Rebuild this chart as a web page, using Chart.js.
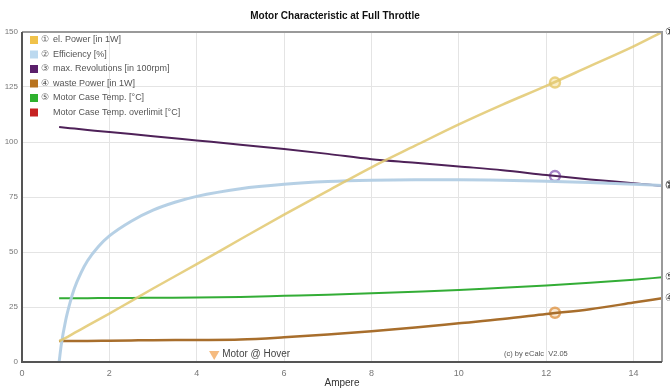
<!DOCTYPE html>
<html>
<head>
<meta charset="utf-8">
<script src="https://cdn.jsdelivr.net/npm/chart.js@4/dist/chart.umd.min.js"></script>
<style>
  html, body { margin: 0; padding: 0; background: #fff; }
  #wrap { width: 670px; height: 389px; position: relative; }
</style>
</head>
<body>
<div id="wrap"><canvas id="chartMotor"></canvas></div>
<script>
// ── Data ─────────────────────────────────────────────────────
const ampere      = [0.85, 1, 1.2, 1.5, 2, 2.5, 3, 4, 5, 6, 7, 8, 9, 10, 11, 12, 13, 14, 14.65];
const elPower     = [9.5, 11, 13.2, 16.5, 22, 27.7, 33.4, 44.5, 55.8, 67, 77.8, 88.5, 98.3, 108, 117, 125.5, 134.5, 143.5, 150];
const maxRevs     = [106.8, 106.5, 106.1, 105.5, 104.5, 103.6, 102.6, 100.7, 98.8, 96.8, 94.6, 92.2, 90.6, 88.9, 87.2, 85, 83, 81.3, 80];
const wastePower  = [9.5, 9.5, 9.5, 9.6, 9.7, 9.8, 9.9, 10, 10.2, 11.2, 12.5, 14, 15.7, 17.6, 19.5, 21.8, 24, 27, 29];
const caseTemp    = [29, 29, 29, 29, 29.1, 29.1, 29.2, 29.3, 29.6, 30.1, 30.6, 31.2, 31.9, 32.7, 33.8, 34.8, 36, 37.4, 38.5];

// efficiency rises steeply, so it is read on a finer grid near the start
const effAmpere   = [0.85, 0.9, 1, 1.1, 1.2, 1.35, 1.5, 1.75, 2, 2.5, 3, 3.5, 4, 5, 6, 7, 8, 9, 10, 11, 12, 13, 14, 14.65];
const efficiency  = [0, 8, 19, 27, 33.5, 40.5, 46, 52.5, 57.3, 64, 69, 72.6, 75.3, 78.8, 80.8, 82, 82.6, 82.8, 82.8, 82.6, 82.2, 81.6, 80.8, 80.2];

const opAmpere    = 12.2;
const opValues    = [127, 84.5, 22.4];          // el. Power, Revolutions, waste Power
const hoverAmpere = 4.4;
const hoverValue  = 3.6;

const xTicks      = [0, 2, 4, 6, 8, 10, 12, 14];
const yTicks      = [0, 25, 50, 75, 100, 125, 150];

const legendItems = [
  { num: '①', text: 'el. Power [in 1W]',            color: '#f0c24a' },
  { num: '②', text: 'Efficiency [%]',               color: '#bcd9ef' },
  { num: '③', text: 'max. Revolutions [in 100rpm]', color: '#5b1f6b' },
  { num: '④', text: 'waste Power [in 1W]',          color: '#b8731f' },
  { num: '⑤', text: 'Motor Case Temp. [°C]',        color: '#2eb12e' },
  { num: '',  text: 'Motor Case Temp. overlimit [°C]', color: '#c62222' }
];

const FONT = "'Liberation Sans', Arial, sans-serif";
const pts = (xs, ys) => xs.map((a, i) => ({ x: a, y: ys[i] }));

// ── Plugins ──────────────────────────────────────────────────
const decorations = {
  id: 'decorations',
  beforeDatasetsDraw(chart) {
    const { ctx, chartArea: a } = chart;
    ctx.save();
    // copyright
    ctx.fillStyle = '#555';
    ctx.font = '7.5px ' + FONT;
    ctx.textBaseline = 'middle';
    ctx.fillText('(c) by eCalc  V2.05', 504, a.bottom - 8);
    // hover label
    ctx.fillStyle = '#444';
    ctx.font = '10px ' + FONT;
    const hx = chart.scales.x.getPixelForValue(hoverAmpere);
    ctx.fillText('Motor @ Hover', hx + 8, a.bottom - 8);
    ctx.restore();
  },
  afterDraw(chart) {
    const { ctx, chartArea: a } = chart;
    ctx.save();
    // title
    ctx.fillStyle = '#111';
    ctx.font = 'bold 10px ' + FONT;
    ctx.textAlign = 'center';
    ctx.textBaseline = 'middle';
    ctx.fillText('Motor Characteristic at Full Throttle', 335, 16);
    // frame
    ctx.lineWidth = 2;
    ctx.strokeStyle = '#9a9a9a';
    ctx.beginPath();
    ctx.moveTo(a.left, a.top); ctx.lineTo(a.right, a.top); ctx.lineTo(a.right, a.bottom);
    ctx.stroke();
    ctx.strokeStyle = '#555';
    ctx.beginPath();
    ctx.moveTo(a.left, a.top); ctx.lineTo(a.left, a.bottom); ctx.lineTo(a.right, a.bottom);
    ctx.stroke();
    // legend inside the plot
    ctx.textAlign = 'left';
    ctx.font = '9px ' + FONT;
    legendItems.forEach((it, i) => {
      const y = a.top + 8 + i * 14.5;
      ctx.fillStyle = it.color;
      ctx.fillRect(a.left + 8, y - 4, 8, 8);
      ctx.fillStyle = '#555';
      if (it.num) ctx.fillText(it.num, a.left + 19, y);
      ctx.fillText(it.text, a.left + 31, y);
    });
    // circled numbers at line ends
    ctx.fillStyle = '#333';
    ctx.font = '10px ' + FONT;
    [0, 1, 2, 3, 4].forEach(di => {
      const meta = chart.getDatasetMeta(di);
      const last = meta.data[meta.data.length - 1];
      ctx.fillText(legendItems[di].num, a.right + 3, last.y);
    });
    ctx.restore();
  }
};

// ── Chart ────────────────────────────────────────────────────
const lineDs = (label, xs, ys, color, width) => ({
  label, data: pts(xs, ys), borderColor: color, backgroundColor: color,
  borderWidth: width, pointRadius: 0, fill: false,
  cubicInterpolationMode: 'monotone'
});

new Chart(document.getElementById('chartMotor'), {
  type: 'line',
  data: {
    datasets: [
      lineDs('el. Power', ampere, elPower, 'rgba(226, 200, 110, 0.85)', 2.5),
      lineDs('Efficiency', effAmpere, efficiency, 'rgba(178, 206, 228, 0.95)', 3),
      lineDs('max. Revolutions', ampere, maxRevs, '#4e2158', 2),
      lineDs('waste Power', ampere, wastePower, '#a86e2c', 2.5),
      lineDs('Motor Case Temp.', ampere, caseTemp, '#33ad36', 2),
      {
        label: 'op',
        type: 'scatter',
        data: opValues.map(v => ({ x: opAmpere, y: v })),
        pointRadius: 5,
        pointBorderWidth: 2.5,
        pointBorderColor: ['rgba(232, 205, 120, 0.9)', 'rgba(150, 110, 190, 0.85)', 'rgba(225, 160, 90, 0.9)'],
        pointBackgroundColor: ['rgba(245, 225, 160, 0.6)', 'rgba(255, 255, 255, 0.3)', 'rgba(240, 200, 150, 0.4)']
      },
      {
        label: 'hover',
        type: 'scatter',
        data: [{ x: hoverAmpere, y: hoverValue }],
        pointStyle: 'triangle',
        rotation: 180,
        pointRadius: 6,
        pointBorderWidth: 0,
        pointBackgroundColor: '#f5bb80'
      }
    ]
  },
  options: {
    responsive: true,
    maintainAspectRatio: false,
    animation: false,
    layout: { padding: { top: 32, right: 8, left: 0, bottom: 0 } },
    plugins: {
      legend: { display: false },
      title: { display: false },
      tooltip: { enabled: false }
    },
    scales: {
      x: {
        type: 'linear',
        min: 0,
        max: 14.65,
        afterFit: (s) => { s.height = 27; },
        afterBuildTicks: (s) => { s.ticks = xTicks.map(v => ({ value: v })); },
        grid: { color: '#e4e4e4', drawTicks: false },
        border: { display: false },
        ticks: { color: '#777', font: { size: 9, family: FONT }, padding: 6 },
        title: { display: true, text: 'Ampere', color: '#333', font: { size: 10, family: FONT }, padding: 0 }
      },
      y: {
        min: 0,
        max: 150,
        afterFit: (s) => { s.width = 22; },
        afterBuildTicks: (s) => { s.ticks = yTicks.map(v => ({ value: v })); },
        grid: { color: '#e4e4e4', drawTicks: false },
        border: { display: false },
        ticks: { color: '#777', font: { size: 8, family: FONT }, padding: 4 }
      }
    }
  },
  plugins: [decorations]
});
</script>
</body>
</html>
